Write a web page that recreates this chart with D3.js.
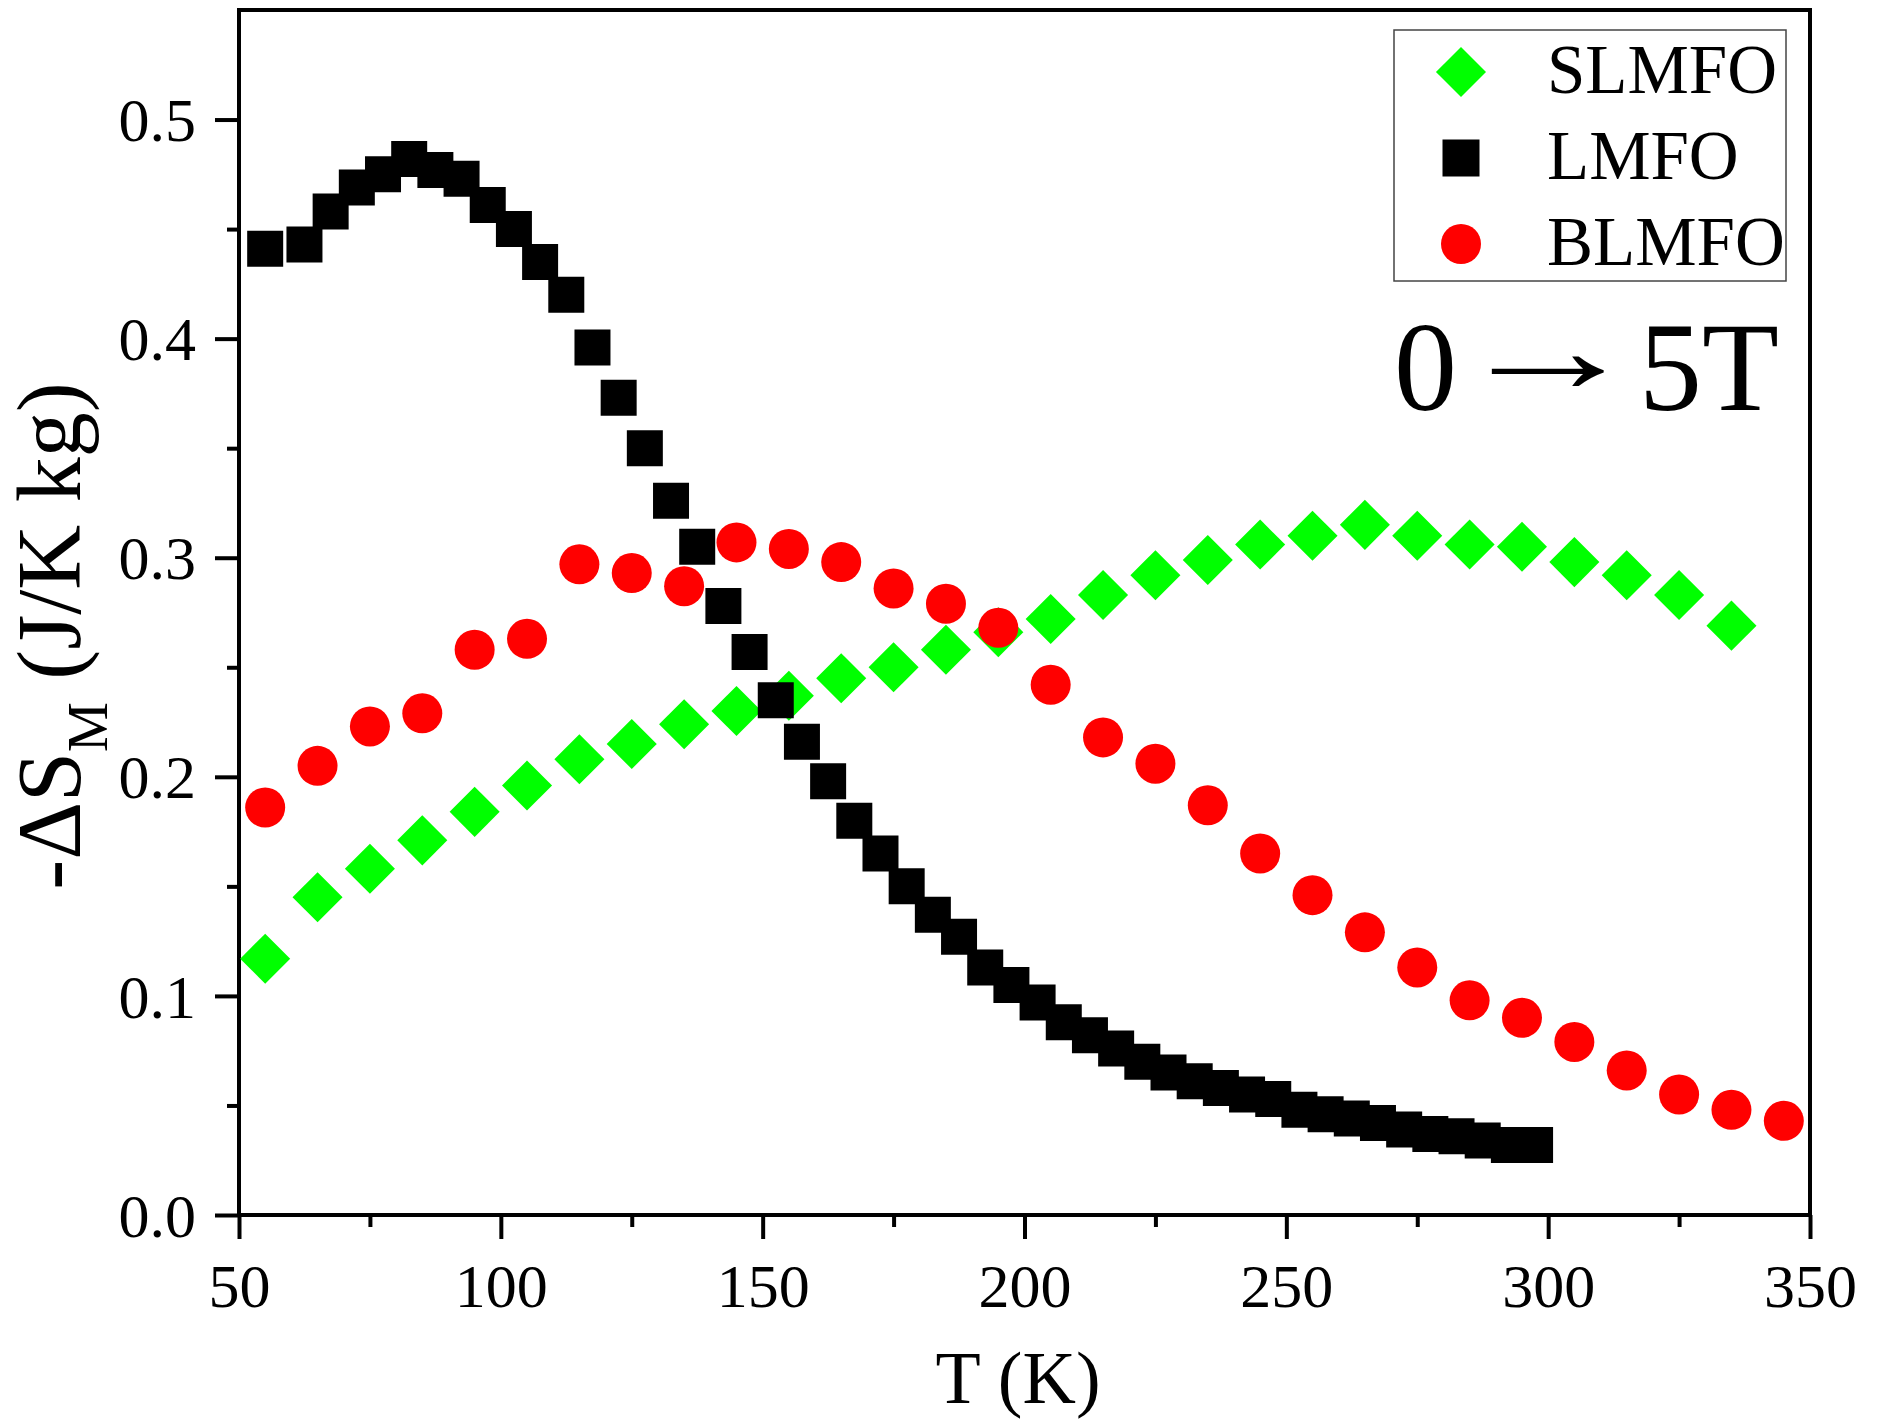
<!DOCTYPE html>
<html>
<head>
<meta charset="utf-8">
<script src="https://cdn.jsdelivr.net/npm/d3@7"></script>
<style>
  html, body { margin: 0; padding: 0; background: #fff; }
  svg text { font-family: "Liberation Serif", "Times New Roman", serif; fill: #000; }
</style>
</head>
<body>
<svg id="chart" width="1885" height="1419"></svg>
<script>
// ---- data ----
const seriesNames = ["SLMFO", "LMFO", "BLMFO"];

const tSLMFO = [55, 65, 75, 85, 95, 105, 115, 125, 135, 145, 155, 165, 175, 185, 195,
                205, 215, 225, 235, 245, 255, 265, 275, 285, 295, 305, 315, 325, 335];
const vSLMFO = [0.117, 0.145, 0.158, 0.171, 0.184, 0.196, 0.208, 0.215, 0.224, 0.230,
                0.237, 0.245, 0.250, 0.258, 0.266, 0.272, 0.283, 0.292, 0.299, 0.306,
                0.310, 0.315, 0.310, 0.306, 0.305, 0.298, 0.292, 0.283, 0.269];

const tLMFO = [55, 62.5, 67.5, 72.5, 77.5, 82.5, 87.5, 92.5, 97.5, 102.5, 107.5, 112.5,
               117.5, 122.5, 127.5, 132.5, 137.5, 142.5, 147.5, 152.5, 157.5, 162.5,
               167.5, 172.5, 177.5, 182.5, 187.5, 192.5, 197.5, 202.5, 207.5, 212.5,
               217.5, 222.5, 227.5, 232.5, 237.5, 242.5, 247.5, 252.5, 257.5, 262.5,
               267.5, 272.5, 277.5, 282.5, 287.5, 292.5, 297.5];
const vLMFO = [0.441, 0.443, 0.458, 0.469, 0.475, 0.482, 0.477, 0.473, 0.461, 0.450,
               0.435, 0.420, 0.396, 0.373, 0.350, 0.326, 0.305, 0.278, 0.257, 0.235,
               0.216, 0.198, 0.180, 0.165, 0.150, 0.137, 0.127, 0.113, 0.105, 0.097,
               0.088, 0.082, 0.076, 0.070, 0.065, 0.061, 0.058, 0.055, 0.053, 0.048,
               0.046, 0.044, 0.042, 0.039, 0.037, 0.036, 0.034, 0.032, 0.032];

const tBLMFO = [55, 65, 75, 85, 95, 105, 115, 125, 135, 145, 155, 165, 175, 185, 195,
                205, 215, 225, 235, 245, 255, 265, 275, 285, 295, 305, 315, 325, 335, 345];
const vBLMFO = [0.186, 0.205, 0.223, 0.229, 0.258, 0.263, 0.297, 0.293, 0.287, 0.307,
                0.304, 0.298, 0.286, 0.279, 0.268, 0.242, 0.218, 0.206, 0.187, 0.165,
                0.146, 0.129, 0.113, 0.098, 0.090, 0.079, 0.066, 0.055, 0.048, 0.043];

const xTicks = [50, 100, 150, 200, 250, 300, 350];
const xMinorTicks = [75, 125, 175, 225, 275, 325];
const yTicks = [0.0, 0.1, 0.2, 0.3, 0.4, 0.5];
const yMinorTicks = [0.05, 0.15, 0.25, 0.35, 0.45];

const xTitle = "T (K)";
const annotationParts = ["0", "\u2192", "5T"];

// ---- layout ----
const L = 239, R = 1810, T = 10, B = 1215;
const svg = d3.select("#chart");

const x = d3.scaleLinear().domain([50, 350]).range([L, R]);
const y = d3.scaleLinear().domain([0, 0.55]).range([B, T]);

// minor ticks
svg.append("g").attr("transform", `translate(0,${B})`)
  .call(d3.axisBottom(x).tickValues(xMinorTicks).tickSize(12).tickFormat(""))
  .call(g => g.select(".domain").remove())
  .call(g => g.selectAll("line").attr("stroke-width", 4).attr("stroke", "#000"));
svg.append("g").attr("transform", `translate(${L},0)`)
  .call(d3.axisLeft(y).tickValues(yMinorTicks).tickSize(12).tickFormat(""))
  .call(g => g.select(".domain").remove())
  .call(g => g.selectAll("line").attr("stroke-width", 4).attr("stroke", "#000"));

// major ticks
const xAxis = svg.append("g").attr("transform", `translate(0,${B})`)
  .call(d3.axisBottom(x).tickValues(xTicks).tickSize(24).tickPadding(0).tickFormat(d3.format("d")));
xAxis.select(".domain").remove();
xAxis.selectAll("line").attr("stroke-width", 4).attr("stroke", "#000");
xAxis.selectAll("text").attr("font-size", 62).attr("dy", null).attr("y", 92)
  .style("font-family", '"Liberation Serif", "Times New Roman", serif').attr("fill", "#000");

const yAxis = svg.append("g").attr("transform", `translate(${L},0)`)
  .call(d3.axisLeft(y).tickValues(yTicks).tickSize(24).tickPadding(0).tickFormat(d3.format(".1f")));
yAxis.select(".domain").remove();
yAxis.selectAll("line").attr("stroke-width", 4).attr("stroke", "#000");
yAxis.selectAll("text").attr("font-size", 62).attr("x", -43).attr("dy", "0.34em")
  .style("font-family", '"Liberation Serif", "Times New Roman", serif').attr("fill", "#000");

// frame
svg.append("rect").attr("x", L).attr("y", T).attr("width", R - L).attr("height", B - T)
  .attr("fill", "none").attr("stroke", "#000").attr("stroke-width", 4);

// markers
const sq = d3.symbol().type(d3.symbolSquare).size(36 * 36);
const dia = d3.symbol().type(d3.symbolSquare).size(35.4 * 35.4);
const circ = d3.symbol().type(d3.symbolCircle).size(Math.PI * 20 * 20);

const plot = svg.append("g");
plot.selectAll("path.s").data(tSLMFO.map((t, i) => [t, vSLMFO[i]])).join("path")
  .attr("d", dia).attr("fill", "#00ff00")
  .attr("transform", d => `translate(${x(d[0])},${y(d[1])}) rotate(45)`);
plot.selectAll("path.l").data(tLMFO.map((t, i) => [t, vLMFO[i]])).join("path")
  .attr("d", sq).attr("fill", "#000")
  .attr("transform", d => `translate(${x(d[0])},${y(d[1])})`);
plot.selectAll("path.b").data(tBLMFO.map((t, i) => [t, vBLMFO[i]])).join("path")
  .attr("d", circ).attr("fill", "#ff0000")
  .attr("transform", d => `translate(${x(d[0])},${y(d[1])})`);

// legend
const lg = svg.append("g");
lg.append("rect").attr("x", 1394).attr("y", 30).attr("width", 392).attr("height", 251)
  .attr("fill", "#fff").attr("stroke", "#444").attr("stroke-width", 1.5);
const legendSyms = [
  {sym: dia, fill: "#00ff00", rot: 45},
  {sym: d3.symbol().type(d3.symbolSquare).size(37 * 37), fill: "#000", rot: 0},
  {sym: circ, fill: "#ff0000", rot: 0}
];
seriesNames.forEach((name, i) => {
  const cy = 72 + i * 86;
  lg.append("path").attr("d", legendSyms[i].sym).attr("fill", legendSyms[i].fill)
    .attr("transform", `translate(1461,${cy}) rotate(${legendSyms[i].rot})`);
  lg.append("text").attr("x", 1547).attr("y", cy + 21).attr("font-size", 69).text(name);
});

// annotation "0 → 5T"
svg.append("text").attr("x", 1394).attr("y", 410).attr("font-size", 126).text(annotationParts[0]);
svg.append("text").attr("transform", "translate(1548,392) scale(1.5,1)")
  .attr("text-anchor", "middle").attr("font-size", 126).text(annotationParts[1]);
svg.append("text").attr("x", 1779).attr("y", 410).attr("text-anchor", "end")
  .attr("font-size", 126).text(annotationParts[2]);

// axis titles
svg.append("text").attr("x", 1018).attr("y", 1403).attr("text-anchor", "middle")
  .attr("font-size", 74).text(xTitle);

const yt = svg.append("text").attr("transform", "translate(80,636) rotate(-90)")
  .attr("text-anchor", "middle").attr("font-size", 90);
yt.append("tspan").text("-\u0394S");
yt.append("tspan").attr("font-size", 56).attr("dy", 27).text("M");
yt.append("tspan").attr("dy", -27).text(" (J/K kg)");
</script>
</body>
</html>
